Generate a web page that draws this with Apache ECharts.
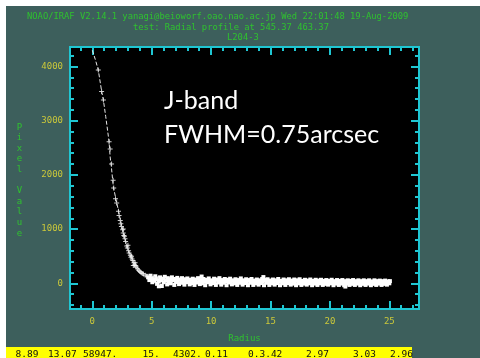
<!DOCTYPE html>
<html>
<head>
<meta charset="utf-8">
<script src="https://cdn.jsdelivr.net/npm/echarts@6/dist/echarts.min.js"></script>
<style>
  html, body { margin: 0; padding: 0; background: #fff; }
  #main { width: 480px; height: 358px; }
</style>
</head>
<body>
<div id="main"></div>
<script>
// radial profile
var profileCurve = [
  [0, 4300], [0.25, 4130], [0.5, 3935], [0.79, 3535], [0.93, 3382], [1.13, 3074],
  [1.41, 2612], [1.5, 2330], [1.6, 2150], [1.77, 1782], [2.0, 1537], [2.19, 1352],
  [2.39, 1137], [2.56, 983], [2.75, 830], [2.95, 646], [3.32, 461], [3.74, 306],
  [4.3, 184], [5.13, 122], [5.6, 95]
];

var corePoints = [
  [0.5, 3935], [0.78, 3540], [0.93, 3380], [1.41, 2610], [1.5, 2480], [1.62, 2200],
  [1.75, 1900], [1.8, 1760], [1.95, 1560], [2.05, 1480], [2.2, 1330], [2.25, 1250],
  [2.35, 1160], [2.4, 1100], [2.45, 1050], [2.55, 990], [2.6, 1000], [2.6, 930],
  [2.65, 880], [2.7, 870], [2.75, 820], [2.8, 770], [2.9, 690], [2.95, 650],
  [3.0, 700], [3.05, 600], [3.1, 560], [3.2, 520], [3.25, 480], [3.3, 500],
  [3.35, 450], [3.4, 420], [3.45, 330], [3.5, 380], [3.55, 340], [3.6, 380],
  [3.65, 330], [3.7, 300], [3.8, 270], [3.9, 240], [4.0, 220], [4.1, 200],
  [4.2, 180], [4.3, 170], [4.45, 150], [4.6, 130]
];

var wingPoints = [
  [4.7, 110], [4.8, 60], [4.9, 140], [5.0, 80], [5.05, 20], [5.15, 100], [5.2, 45],
  [5.3, 130], [5.4, 70], [5.45, -10], [5.55, 90], [5.6, 30], [5.6, -55], [5.7, 110],
  [5.8, 60], [5.85, -50], [5.95, 85], [6.0, 20], [6.1, 120], [6.2, 50], [6.3, -20],
  [6.35, 95], [6.45, 40], [6.55, 75], [6.6, 0], [6.7, 110], [6.8, 55], [6.9, -30],
  [6.95, 80], [7.05, 25], [7.15, 100], [7.2, 45], [7.3, -15], [7.4, 70], [7.5, 10],
  [7.55, 95], [7.65, 40], [7.75, -25], [7.8, 75], [7.9, 20], [8.0, 90], [8.1, 35],
  [8.2, -20], [8.25, 65], [8.35, 5], [8.45, 85], [8.55, 40], [8.6, -30], [8.7, 70],
  [8.8, 15], [8.9, 95], [9.0, 45], [9.05, -15], [9.15, 60], [9.2, 125], [9.25, 0],
  [9.35, 80], [9.4, 30], [9.5, -35], [9.6, 65], [9.7, 20], [9.8, 90], [9.85, 40],
  [9.95, -20], [10.05, 55], [10.15, 5], [10.25, 85], [10.3, 30], [10.4, -30],
  [10.5, 70], [10.6, 15], [10.7, 95], [10.75, 40], [10.85, -25], [10.95, 60],
  [11.05, 10], [11.15, 80], [11.2, 35], [11.3, -35], [11.4, 65], [11.5, 15],
  [11.6, 85], [11.65, 40], [11.75, -20], [11.85, 55], [11.95, 0], [12.05, 75],
  [12.1, 30], [12.2, -30], [12.3, 60], [12.4, 10], [12.5, 90], [12.55, 35],
  [12.65, -25], [12.75, 55], [12.85, 5], [12.95, 75], [13.0, 25], [13.1, -35],
  [13.2, 60], [13.3, 10], [13.4, 80], [13.45, 30], [13.55, -30], [13.65, 50],
  [13.75, 0], [13.85, 70], [13.9, 25], [14.0, -25], [14.1, 55], [14.2, 5],
  [14.3, 80], [14.35, 30], [14.4, 115], [14.45, -35], [14.55, 60], [14.65, 10],
  [14.75, 75], [14.8, 20], [14.9, -30], [15.0, 50], [15.1, 0], [15.2, 70],
  [15.25, 25], [15.35, -25], [15.45, 55], [15.55, 5], [15.65, 80], [15.7, 30],
  [15.8, -35], [15.9, 45], [16.0, 0], [16.1, 70], [16.15, 20], [16.25, -30],
  [16.35, 55], [16.45, 5], [16.55, 75], [16.6, 25], [16.7, -25], [16.8, 50],
  [16.9, -5], [17.0, 70], [17.05, 20], [17.15, -35], [17.25, 55], [17.35, 0],
  [17.45, 75], [17.5, 25], [17.6, -30], [17.7, 45], [17.8, -5], [17.9, 65],
  [17.95, 15], [18.05, -25], [18.15, 50], [18.25, 0], [18.35, 70], [18.4, 20],
  [18.5, -35], [18.6, 45], [18.7, -5], [18.8, 65], [18.85, 15], [18.95, -30],
  [19.05, 50], [19.15, 0], [19.25, 65], [19.3, 20], [19.4, -30], [19.5, 45],
  [19.6, -10], [19.7, 60], [19.75, 15], [19.85, -25], [19.95, 45], [20.05, 0],
  [20.15, 65], [20.2, 15], [20.3, -35], [20.4, 40], [20.5, -5], [20.6, 60],
  [20.65, 10], [20.75, -30], [20.85, 45], [20.95, -5], [21.05, 60], [21.1, 15],
  [21.2, -35], [21.3, 40], [21.3, -60], [21.4, -5], [21.5, 55], [21.55, 10],
  [21.65, -30], [21.75, 45], [21.85, -10], [21.95, 60], [22.0, 15], [22.1, -30],
  [22.2, 40], [22.3, -5], [22.4, 55], [22.45, 10], [22.55, -35], [22.65, 40],
  [22.75, -10], [22.85, 55], [22.9, 10], [23.0, -30], [23.1, 40], [23.2, -5],
  [23.3, 55], [23.35, 10], [23.45, -35], [23.55, 35], [23.65, -10], [23.75, 55],
  [23.8, 5], [23.9, -30], [24.0, 40], [24.1, -5], [24.2, 50], [24.25, 10],
  [24.35, -30], [24.45, 40], [24.55, -10], [24.65, 50], [24.7, 5], [24.8, -25],
  [24.9, 35], [25.0, 0], [25.05, 40]
];

var xMajor = [0, 5, 10, 15, 20, 25];
var xMinor = [-1, 1, 2, 3, 4, 6, 7, 8, 9, 11, 12, 13, 14, 16, 17, 18, 19, 21, 22, 23, 24, 26, 27];
var yMajor = [0, 1000, 2000, 3000, 4000];
var yMinor = [-400, -200, 200, 400, 600, 800, 1200, 1400, 1600, 1800, 2200, 2400, 2600,
  2800, 3200, 3400, 3600, 3800, 4200];

var headerLines = [
  'NOAO/IRAF V2.14.1 yanagi@beioworf.oao.nao.ac.jp Wed 22:01:48 19-Aug-2009',
  'test: Radial profile at 545.37 463.37',
  'L204-3'
];
var statusValues = ['8.89', '13.07', '58947.', '15.', '4302.', '0.11', '0.3.42', '2.97', '3.03', '2.96'];

var CYAN = '#1fc6d2';
var YELLOW = '#cbc83a';
var GREEN = '#2fc22f';
var MONO = '"DejaVu Sans Mono", monospace';

function plainLabel(v) {
  return String(v);
}

function xAxisDef(pos, ticks, len, labels) {
  return {
    type: 'value', position: pos, min: -1.88, max: 27.5,
    axisLine: { show: false, onZero: false },
    splitLine: { show: false },
    axisTick: { show: true, inside: true, length: len, customValues: ticks,
      lineStyle: { color: CYAN, width: 2 } },
    axisLabel: labels ? { show: true, customValues: ticks, color: YELLOW, formatter: plainLabel,
      fontFamily: MONO, fontSize: 9, margin: 8 } : { show: false }
  };
}
function yAxisDef(pos, ticks, len, labels) {
  return {
    type: 'value', position: pos, min: -474, max: 4360,
    axisLine: { show: false, onZero: false },
    splitLine: { show: false },
    axisTick: { show: true, inside: true, length: len, customValues: ticks,
      lineStyle: { color: CYAN, width: 2 } },
    axisLabel: labels ? { show: true, customValues: ticks, color: YELLOW, formatter: plainLabel,
      fontFamily: MONO, fontSize: 9, margin: 7 } : { show: false }
  };
}

var xAxes = [
  xAxisDef('bottom', xMajor, 8, true),
  xAxisDef('bottom', xMinor, 4, false),
  xAxisDef('top', xMajor, 8, false),
  xAxisDef('top', xMinor, 4, false)
];
xAxes[0].name = 'Radius';
xAxes[0].nameLocation = 'middle';
xAxes[0].nameGap = 25;
xAxes[0].nameTextStyle = { color: GREEN, fontFamily: MONO, fontSize: 9 };

var yAxes = [
  yAxisDef('left', yMajor, 8, true),
  yAxisDef('left', yMinor, 4, false),
  yAxisDef('right', yMajor, 8, false),
  yAxisDef('right', yMinor, 4, false)
];

var graphics = [
  { type: 'rect', shape: { x: 0, y: 0, width: 6, height: 358 }, style: { fill: '#fff' }, z: 100 },
  { type: 'rect', shape: { x: 0, y: 0, width: 480, height: 6 }, style: { fill: '#fff' }, z: 100 },
  { type: 'rect', shape: { x: 6, y: 347, width: 406, height: 11 }, style: { fill: '#ffff00' }, z: 100 },
  // vertical "Pixel Value"
  { type: 'text', x: 19.5, y: 122, z: 100,
    style: { text: 'P\ni\nx\ne\nl\n \nV\na\nl\nu\ne', fill: GREEN, font: '9px ' + MONO,
      align: 'center', verticalAlign: 'top', lineHeight: 10.6 } },
  { type: 'text', x: 164, y: 84, z: 100,
    style: { text: 'J-band\nFWHM=0.75arcsec', fill: '#fff', font: '25px Lato',
      verticalAlign: 'top', lineHeight: 34 } }
];

var headerPos = [[27, 12], [133, 23], [227, 33.5]];
headerLines.forEach(function(t, i) {
  graphics.push({ type: 'text', x: headerPos[i][0], y: headerPos[i][1], z: 100,
    style: { text: t, fill: GREEN, font: '8.8px ' + MONO, verticalAlign: 'top' } });
});

var statusX = [15.5, 48, 83, 142.5, 173, 205, 248, 306, 353, 390];
statusValues.forEach(function(t, i) {
  graphics.push({ type: 'text', x: statusX[i], y: 349.5, z: 101,
    style: { text: t, fill: '#111', font: '9.5px ' + MONO, verticalAlign: 'top' } });
});

var chart = echarts.init(document.getElementById('main'), null, { renderer: 'canvas' });
chart.setOption({
  animation: false,
  backgroundColor: '#3d5f5c',
  grid: {
    left: 70, top: 47, width: 349, height: 262,
    show: true, backgroundColor: '#000', borderColor: CYAN, borderWidth: 2
  },
  xAxis: xAxes,
  yAxis: yAxes,
  graphic: graphics,
  series: [
    {
      type: 'line', data: profileCurve, showSymbol: false, smooth: false,
      lineStyle: { color: '#e6e6e6', width: 1, type: [4, 2] }
    },
    {
      type: 'scatter', data: corePoints, symbol: 'path://M2 0H3V5H2ZM0 2H5V3H0Z',
      symbolSize: 5, itemStyle: { color: '#fff' }
    },
    {
      type: 'scatter', data: wingPoints, symbol: 'rect', symbolSize: 4,
      itemStyle: { color: '#fff', opacity: 1 }
    }
  ]
});
</script>
</body>
</html>
